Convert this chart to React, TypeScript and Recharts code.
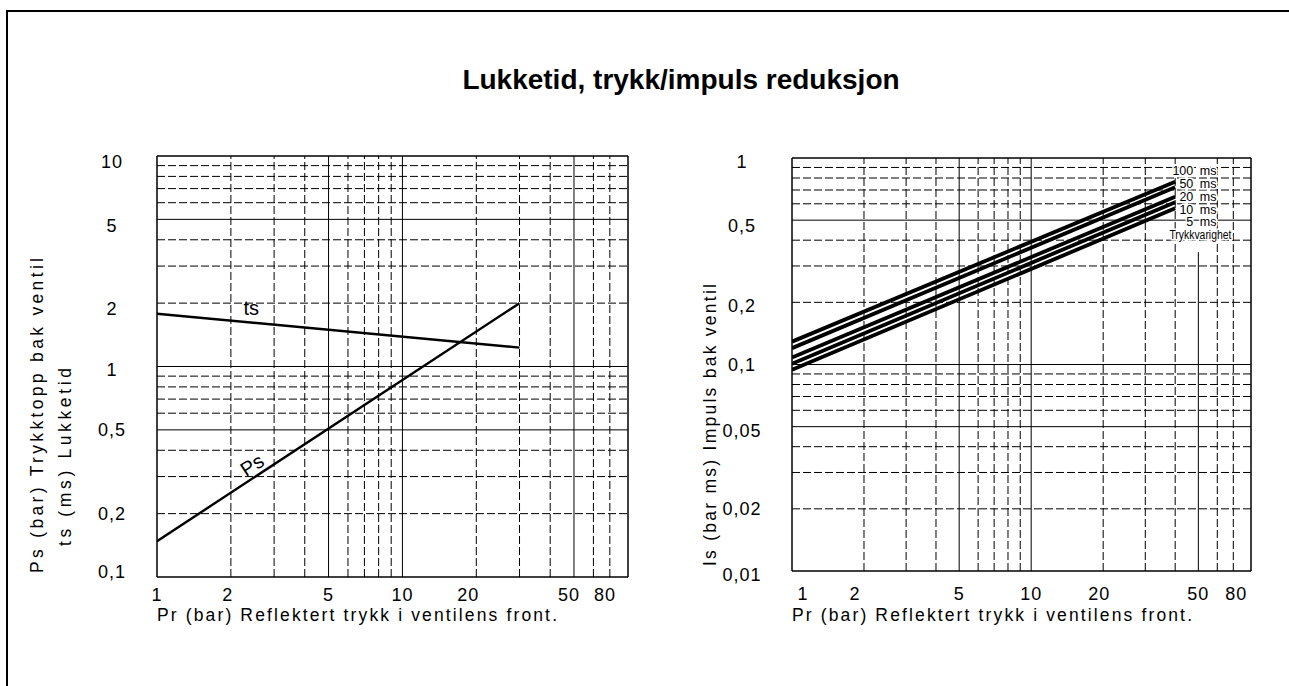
import { LineChart, Line, XAxis, YAxis, ReferenceLine, ReferenceDot, Label } from 'recharts';

// Pr (bar) – shared x axis of both panels
const prTicks = [1, 2, 5, 10, 20, 50, 80];
const prGridMinor = [2, 3, 4, 6, 7, 8, 9, 20, 30, 40, 60, 70];
const prGridMajor = [5, 10, 50];

// left panel: peak pressure Ps and closing time ts
const leftTicks = [0.1, 0.2, 0.5, 1, 2, 5, 10];
const leftGridMinor = [0.2, 0.3, 0.4, 0.6, 0.7, 0.8, 0.9, 2, 3, 4, 6, 7, 8, 9];
const leftGridMajor = [0.5, 1, 5];
const closingPr = [1, 30];
const tsValues = [1.78, 1.23];
const psValues = [0.148, 2.0];

// right panel: impulse Is per pressure duration
const rightTicks = [0.01, 0.02, 0.05, 0.1, 0.2, 0.5, 1];
const rightGridMinor = [0.02, 0.03, 0.04, 0.06, 0.07, 0.08, 0.09, 0.2, 0.3, 0.4, 0.6, 0.7, 0.8, 0.9];
const rightGridMajor = [0.05, 0.1, 0.5];
const impulsePr = [1, 40];
const durations = ['100 ms', '50 ms', '20 ms', '10 ms', '5 ms'];
const impulseStart = [0.129, 0.12, 0.108, 0.1008, 0.0943];
const impulseEnd = [0.768, 0.721, 0.65, 0.611, 0.571];

const leftData = closingPr.map((pr, i) => ({ pr, ts: tsValues[i], ps: psValues[i] }));
const rightData = impulsePr.map((pr, i) => {
  const row: Record<string, number> = { pr };
  durations.forEach((_, k) => {
    row['d' + k] = i === 0 ? impulseStart[k] : impulseEnd[k];
  });
  return row;
});

// where the duration captions sit (data coords)
const captionX = 59.5;
const captionY = [0.866, 0.749, 0.648, 0.561, 0.491];

const FONT = "'Liberation Sans', Arial, sans-serif";
const tickStyle = { fontFamily: FONT, fontSize: 18, fill: '#000', letterSpacing: 1 };
const titleStyle = { fontFamily: FONT, fontSize: 17.5, fill: '#000' };
const fmt = (v: number) => String(v).replace('.', ',');

function xTick(nudge: Record<number, number>, dy: number) {
  return (props: any) => {
    const { x, y, payload } = props;
    return (
      <text x={x + (nudge[payload.value] ?? 0)} y={y + dy} textAnchor="middle" style={tickStyle}>
        {fmt(payload.value)}
      </text>
    );
  };
}

function yTick(nudge: Record<number, number>, dx: number) {
  return (props: any) => {
    const { x, y, payload } = props;
    return (
      <text x={x - dx} y={y + 6.5 + (nudge[payload.value] ?? 0)} textAnchor="middle" style={tickStyle}>
        {fmt(payload.value)}
      </text>
    );
  };
}

function gridLines(xs: number[], ys: number[], dashed: boolean) {
  const dash = dashed ? '8 3' : undefined;
  return [
    ...xs.map((v) => (
      <ReferenceLine key={'x' + v + dashed} x={v} stroke="#000" strokeWidth={1} strokeDasharray={dash} />
    )),
    ...ys.map((v) => (
      <ReferenceLine key={'y' + v + dashed} y={v} stroke="#000" strokeWidth={1} strokeDasharray={dash} />
    )),
  ];
}

function frame(x0: number, x1: number, y0: number, y1: number) {
  return [
    <ReferenceLine key="fl" x={x0} stroke="#000" strokeWidth={1.5} />,
    <ReferenceLine key="fr" x={x1} stroke="#000" strokeWidth={1.5} />,
    <ReferenceLine key="fb" y={y0} stroke="#000" strokeWidth={1.5} />,
    <ReferenceLine key="ft" y={y1} stroke="#000" strokeWidth={1.5} />,
  ];
}

const xTitle = (dy: number) => (p: any) => (
  <text x={p.viewBox.x} y={p.viewBox.y + dy} style={titleStyle} textLength={400} lengthAdjust="spacing">
    Pr (bar) Reflektert trykk i ventilens front.
  </text>
);

function LeftPanel() {
  return (
    <LineChart width={660} height={686} data={leftData} margin={{ top: 156, right: 32, bottom: 49, left: 0 }}>
      <XAxis
        dataKey="pr"
        type="number"
        scale="log"
        domain={[1, 83]}
        allowDataOverflow
        ticks={prTicks}
        axisLine={false}
        tickLine={false}
        tickSize={0}
        tickMargin={0}
        height={60}
        interval={0}
        tick={xTick({ 2: -3, 20: -8, 50: -5, 80: -19 }, 24)}
      >
        <Label content={xTitle(44)} />
      </XAxis>
      <YAxis
        type="number"
        scale="log"
        domain={[0.1, 10]}
        allowDataOverflow
        ticks={leftTicks}
        axisLine={false}
        tickLine={false}
        tickSize={0}
        tickMargin={0}
        width={157}
        interval={0}
        tick={yTick({ 10: 5, 5: 6, 2: 5, 1: 3, 0.1: -6 }, 45)}
      >
        <Label
          content={() => (
            <g style={titleStyle}>
              <text transform="translate(43 573) rotate(-90)" textLength={315} lengthAdjust="spacing">
                Ps (bar) Trykktopp bak ventil
              </text>
              <text transform="translate(71 546) rotate(-90)" textLength={178} lengthAdjust="spacing">
                ts (ms) Lukketid
              </text>
            </g>
          )}
        />
      </YAxis>
      {gridLines(prGridMinor, leftGridMinor, true)}
      {gridLines(prGridMajor, leftGridMajor, false)}
      {frame(1, 83, 0.1, 10)}
      <Line dataKey="ts" type="linear" stroke="#000" strokeWidth={2.4} dot={false} isAnimationActive={false} />
      <Line dataKey="ps" type="linear" stroke="#000" strokeWidth={2.4} dot={false} isAnimationActive={false} />
      <ReferenceDot
        x={2.42}
        y={1.9}
        shape={(p: any) => (
          <text x={p.cx} y={p.cy + 7} textAnchor="middle" style={{ ...titleStyle, fontSize: 20 }}>
            ts
          </text>
        )}
      />
      <ReferenceDot
        x={2.44}
        y={0.34}
        shape={(p: any) => (
          <text
            transform={`translate(${p.cx} ${p.cy}) rotate(-33)`}
            y={7}
            textAnchor="middle"
            style={{ ...titleStyle, fontSize: 20 }}
          >
            Ps
          </text>
        )}
      />
    </LineChart>
  );
}

function RightPanel() {
  return (
    <LineChart width={629} height={686} data={rightData} margin={{ top: 158, right: 38, bottom: 55, left: 0 }}>
      <XAxis
        dataKey="pr"
        type="number"
        scale="log"
        domain={[1, 83]}
        allowDataOverflow
        ticks={prTicks}
        axisLine={false}
        tickLine={false}
        tickSize={0}
        tickMargin={0}
        height={60}
        interval={0}
        tick={xTick({ 1: 11, 2: -9, 20: -4, 80: -11 }, 29)}
      >
        <Label content={xTitle(50)} />
      </XAxis>
      <YAxis
        type="number"
        scale="log"
        domain={[0.01, 1]}
        allowDataOverflow
        ticks={rightTicks}
        axisLine={false}
        tickLine={false}
        tickSize={0}
        tickMargin={0}
        width={132}
        interval={0}
        tick={yTick({ 1: 3, 0.5: 5, 0.2: 3, 0.05: 4, 0.01: 3 }, 50)}
      >
        <Label
          content={() => (
            <text transform="translate(56 566) rotate(-90)" style={titleStyle} textLength={282} lengthAdjust="spacing">
              Is (bar ms) Impuls bak ventil
            </text>
          )}
        />
      </YAxis>
      {gridLines(prGridMinor, rightGridMinor, true)}
      {gridLines([5, 10], rightGridMajor, false)}
      <ReferenceLine
        segment={[
          { x: 50, y: 0.01 },
          { x: 50, y: 0.35 },
        ]}
        stroke="#000"
        strokeWidth={1}
      />
      {frame(1, 83, 0.01, 1)}
      {durations.map((d, k) => (
        <Line
          key={d}
          dataKey={'d' + k}
          name={d}
          type="linear"
          stroke="#000"
          strokeWidth={3.8}
          dot={false}
          isAnimationActive={false}
        />
      ))}
      {durations.map((d, k) => (
        <ReferenceDot
          key={'c' + d}
          x={captionX}
          y={captionY[k]}
          shape={(p: any) => (
            <text
              x={p.cx}
              y={p.cy + 4.5}
              textAnchor="end"
              stroke="#fff"
              strokeWidth={3}
              paintOrder="stroke"
              style={{ fontFamily: FONT, fontSize: 12.5, fill: '#000', wordSpacing: 3 }}
            >
              {d}
            </text>
          )}
        />
      ))}
      <ReferenceDot
        x={51}
        y={0.425}
        shape={(p: any) => (
          <text
            x={p.cx}
            y={p.cy + 4.5}
            textAnchor="middle"
            stroke="#fff"
            strokeWidth={3}
            paintOrder="stroke"
            textLength={62}
            lengthAdjust="spacingAndGlyphs"
            style={{ fontFamily: FONT, fontSize: 12, fill: '#000' }}
          >
            Trykkvarighet
          </text>
        )}
      />
    </LineChart>
  );
}

export default function App() {
  return (
    <div style={{ position: 'absolute', left: 0, top: 0, width: 1289, height: 686, overflow: 'hidden', background: '#fff' }}>
      <div
        style={{
          position: 'absolute',
          left: 6,
          top: 10,
          width: 1400,
          height: 800,
          borderTop: '2px solid #000',
          borderLeft: '2px solid #000',
        }}
      />
      <div
        style={{
          position: 'absolute',
          left: 0,
          width: 1362,
          top: 63,
          textAlign: 'center',
          fontFamily: FONT,
          fontWeight: 700,
          fontSize: 28,
          lineHeight: '34px',
        }}
      >
        Lukketid, trykk/impuls reduksjon
      </div>
      <div style={{ position: 'absolute', left: 0, top: 0 }}>
        <LeftPanel />
      </div>
      <div style={{ position: 'absolute', left: 660, top: 0 }}>
        <RightPanel />
      </div>
    </div>
  );
}
